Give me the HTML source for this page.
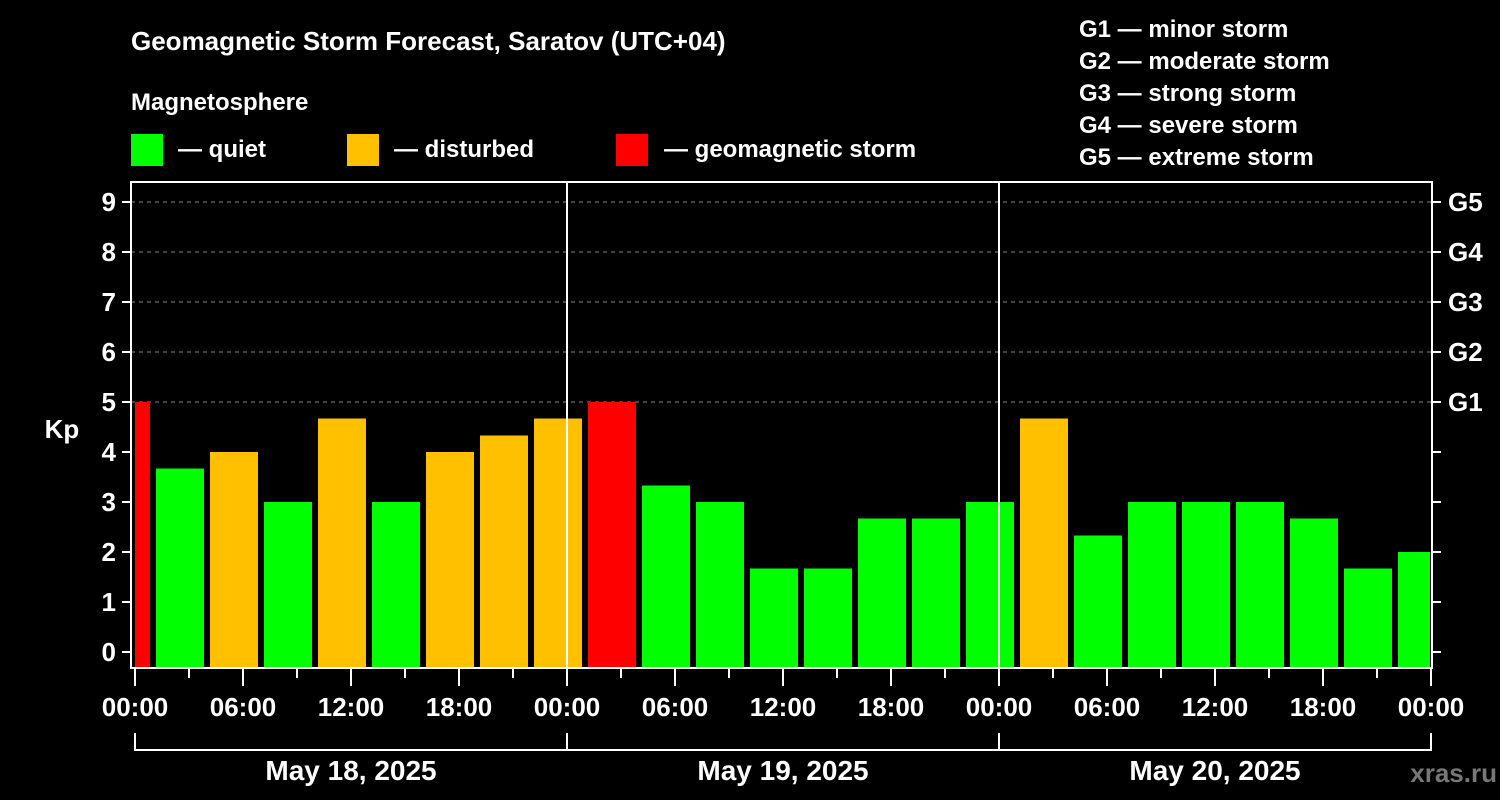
<!DOCTYPE html>
<html><head><meta charset="utf-8"><style>
html,body{margin:0;padding:0;background:#000;}
svg{display:block;font-family:"Liberation Sans",Arial,sans-serif;font-weight:bold;}
</style></head><body>
<svg id="chart" width="1500" height="800" viewBox="0 0 1500 800">
<text x="131" y="50" fill="#fff" font-size="26">Geomagnetic Storm Forecast, Saratov (UTC+04)</text>
<text x="131" y="110" fill="#fff" font-size="24">Magnetosphere</text>
<g><rect x="131" y="134" width="32" height="32" fill="#00ff00"/><text x="178" y="157" fill="#fff" font-size="24">— quiet</text></g>
<g><rect x="347" y="134" width="32" height="32" fill="#ffc000"/><text x="394" y="157" fill="#fff" font-size="24">— disturbed</text></g>
<g><rect x="616" y="134" width="32" height="32" fill="#ff0000"/><text x="664" y="157" fill="#fff" font-size="24">— geomagnetic storm</text></g>
<g fill="#fff" font-size="24">
<text x="1079" y="37">G1 — minor storm</text>
<text x="1079" y="69">G2 — moderate storm</text>
<text x="1079" y="101">G3 — strong storm</text>
<text x="1079" y="133">G4 — severe storm</text>
<text x="1079" y="165">G5 — extreme storm</text>
</g>
<text x="62" y="438" fill="#fff" font-size="26" text-anchor="middle">Kp</text>
<text x="1497" y="782" fill="#777" font-size="26" text-anchor="end">xras.ru</text>
<g id="plot"></g>
</svg>
<script>
const kpValues = [5, 3.67, 4, 3, 4.67, 3, 4, 4.33, 4.67, 5, 3.33, 3, 1.67, 1.67, 2.67, 2.67, 3, 4.67, 2.33, 3, 3, 3, 2.67, 1.67, 2];
const yTicks = [0,1,2,3,4,5,6,7,8,9];
const gLabels = ["G1","G2","G3","G4","G5"];
const xTickLabels = ["00:00","06:00","12:00","18:00","00:00","06:00","12:00","18:00","00:00","06:00","12:00","18:00","00:00"];
const dayLabels = ["May 18, 2025","May 19, 2025","May 20, 2025"];
const firstBinHour = -2, binHours = 3;

const NS="http://www.w3.org/2000/svg";
const g=document.getElementById('plot');
const L=131,R=1432,T=182,B=668,X0=135,PXH=18;
const xs=h=>X0+h*PXH;
const ys=v=>652-v*50;
function el(t,a,p){const e=document.createElementNS(NS,t);for(const k in a)e.setAttribute(k,a[k]);(p||g).appendChild(e);return e;}
function color(v){return v>=5?"#ff0000":(v>=4?"#ffc000":"#00ff00");}
// grid
yTicks.forEach(v=>{
  if(v>=5){const l=el('line',{x1:L,x2:R,y1:ys(v),y2:ys(v),stroke:'#888','stroke-width':1,'stroke-dasharray':'4,4'});
  
  }
  const t=el('line',{x1:122,x2:L,y1:ys(v),y2:ys(v),stroke:'#fff','stroke-width':2});
  
  
  const tr=el('line',{x1:R,x2:R+9,y1:ys(v),y2:ys(v),stroke:'#fff','stroke-width':2});
  
  
  const tx=el('text',{x:116,y:ys(v)+9,fill:'#fff','font-size':26,'text-anchor':'end'});
  tx.textContent=v;
  
  
});
gLabels.forEach((s,i)=>{
  const tx=el('text',{x:1448,y:ys(5+i)+9,fill:'#fff','font-size':26});
  tx.textContent=s;
  
  
});
// clip
const defs=el('defs',{});
const cp=el('clipPath',{id:'pc'},defs);
el('rect',{x:X0,y:T,width:R-X0-2,height:B-T},cp);
const bars=el('g',{'clip-path':'url(#pc)'});


kpValues.forEach((v,i)=>{
  const h0=firstBinHour+i*binHours;
  const x=xs(h0)+3,w=binHours*PXH-6;
  const r=el('rect',{x:x,y:ys(v),width:w,height:B-ys(v),fill:color(v)},bars);
  
  
});
// day separators
[24,48].forEach(h=>{
  const l=el('line',{x1:xs(h),x2:xs(h),y1:T,y2:B,stroke:'#fff','stroke-width':2});
  
  
});
// frame
const f=el('rect',{x:L,y:T,width:R-L,height:B-T,fill:'none',stroke:'#fff','stroke-width':2});


// x ticks
for(let h=0;h<=72;h+=3){
  const t=el('line',{x1:xs(h),x2:xs(h),y1:B,y2:h%6==0?686:678,stroke:'#fff','stroke-width':2});
  
  
}
xTickLabels.forEach((s,i)=>{
  const tx=el('text',{x:xs(i*6),y:716,fill:'#fff','font-size':26,'text-anchor':'middle'});
  tx.textContent=s;
  
  
});
// day bracket
const br=el('path',{d:`M${xs(0)},733 V750 H${xs(72)} V733 M${xs(24)},733 V750 M${xs(48)},733 V750`,stroke:'#fff','stroke-width':2,fill:'none'});


dayLabels.forEach((s,i)=>{
  const tx=el('text',{x:xs(i*24+12),y:780,fill:'#fff','font-size':28,'text-anchor':'middle'});
  tx.textContent=s;
  
  
});
</script>
</body></html>
